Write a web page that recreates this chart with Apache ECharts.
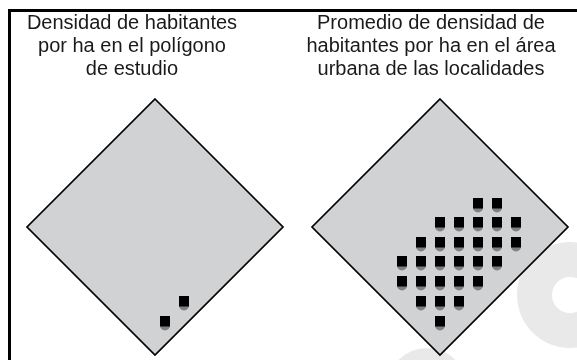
<!DOCTYPE html>
<html lang="en">
<head>
    <meta charset="UTF-8">
    <script src="https://cdn.jsdelivr.net/npm/echarts@6/dist/echarts.min.js"></script>
    <style>html,body{margin:0;padding:0;background:#fff}</style>
</head>
<body>
    <div id="main" style="width:577px;height:360px;"></div>
    <script>
        var titles = [
            'Densidad de habitantes\npor ha en el polígono\nde estudio',
            'Promedio de densidad de\nhabitantes por ha en el área\nurbana de las localidades'
        ]
        // diamond corners, units are the same on both axes
        var diamond = [[0, 128], [128, 0], [0, -128], [-128, 0]]
        var pointsLeft = [[29, -74], [10, -94]]
        // right panel, one list of x per row
        var rowY = [24, 5, -15, -34, -54, -74, -94]
        var rowX = [
            [38, 57],
            [0, 19, 38, 57, 76],
            [-19, 0, 19, 38, 57, 76],
            [-38, -19, 0, 19, 38, 57],
            [-38, -19, 0, 19, 38],
            [-19, 0, 19],
            [0]
        ]
        var pointsRight = []
        for (var i = 0; i < rowY.length; i++) {
            for (var j = 0; j < rowX[i].length; j++) {
                pointsRight.push([rowX[i][j], rowY[i]])
            }
        }

        function renderDiamond(params, api) {
            if (params.dataIndex > 0) return
            var pts = diamond.map(function (d) { return api.coord(d) })
            return {
                type: 'polygon',
                shape: { points: pts },
                style: { fill: '#d1d2d4', stroke: '#000', lineWidth: 1.7 }
            }
        }

        function renderPoint(params, api) {
            var c = api.coord([api.value(0), api.value(1)])
            var x = Math.round(c[0]), y = Math.round(c[1])
            return {
                type: 'group',
                children: [
                    { type: 'circle', shape: { cx: x, cy: y + 4.5, r: 5 }, style: { fill: '#808080' } },
                    { type: 'rect', shape: { x: x - 5, y: y - 5, width: 10, height: 10.5 }, style: { fill: '#000' } }
                ]
            }
        }

        function axis(gridIndex) {
            return { type: 'value', gridIndex: gridIndex, min: -128, max: 128, show: false }
        }

        var myChart = echarts.init(document.getElementById('main'), null, { renderer: 'canvas' })
        myChart.setOption({
            animation: false,
            backgroundColor: '#fff',
            title: titles.map(function (t, k) {
                return {
                    text: t,
                    left: k === 0 ? 127 : 426,
                    top: 7,
                    textAlign: 'center',
                    textStyle: {
                        fontFamily: 'Liberation Sans',
                        fontSize: 20,
                        fontWeight: 'normal',
                        color: '#1a1a1a',
                        lineHeight: 23
                    }
                }
            }),
            grid: [
                { left: 27, top: 99, width: 256, height: 256 },
                { left: 312, top: 99, width: 256, height: 256 }
            ],
            xAxis: [axis(0), axis(1)],
            yAxis: [axis(0), axis(1)],
            graphic: [
                // frame, open on the right and bottom
                { type: 'rect', z: 0, shape: { x: 8, y: 9, width: 3, height: 351 }, style: { fill: '#000' } },
                { type: 'rect', z: 0, shape: { x: 8, y: 9, width: 569, height: 3 }, style: { fill: '#000' } },
                // faint watermark behind the chart
                { type: 'ring', z: 0, shape: { cx: 570, cy: 295, r: 53, r0: 18 }, style: { fill: '#e9e9e9' } },
                { type: 'circle', z: 0, shape: { cx: 427, cy: 388, r: 40 }, style: { fill: '#e9e9e9' } }
            ],
            series: [
                { type: 'custom', xAxisIndex: 0, yAxisIndex: 0, z: 2, clip: false, silent: true, data: diamond, renderItem: renderDiamond },
                { type: 'custom', xAxisIndex: 1, yAxisIndex: 1, z: 2, clip: false, silent: true, data: diamond, renderItem: renderDiamond },
                { type: 'custom', xAxisIndex: 0, yAxisIndex: 0, z: 3, clip: false, silent: true, data: pointsLeft, renderItem: renderPoint },
                { type: 'custom', xAxisIndex: 1, yAxisIndex: 1, z: 3, clip: false, silent: true, data: pointsRight, renderItem: renderPoint }
            ]
        })
    </script>
</body>
</html>
